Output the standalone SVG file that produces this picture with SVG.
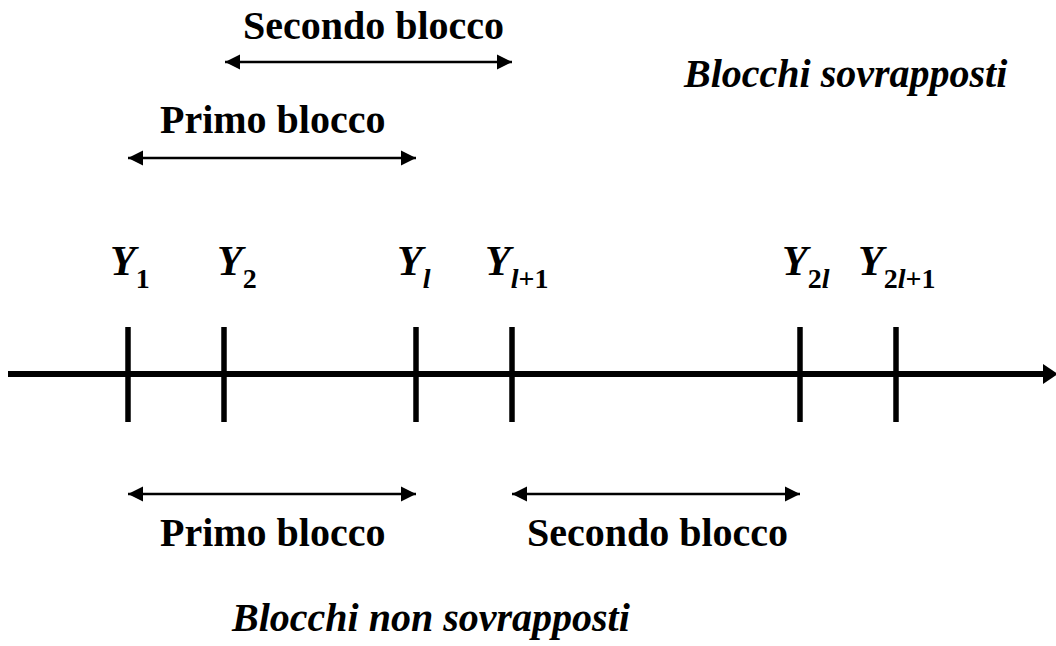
<svg xmlns="http://www.w3.org/2000/svg" width="1056" height="646" viewBox="0 0 1056 646">
<style>
.t{font-family:"Liberation Serif","Times New Roman",serif;font-weight:bold;fill:#000}
.lbl{font-size:40px}
.it{font-style:italic}
.Y{font-size:42px}
.yl{font-style:italic}
.s{font-size:28px;font-style:normal}
.tick{stroke:#000;stroke-width:5.5}
.dbl{stroke:#000;stroke-width:2.5;fill:none;marker-start:url(#ah);marker-end:url(#ah)}
</style>
<defs>
<marker id="ah" markerUnits="userSpaceOnUse" markerWidth="16" markerHeight="16" refX="15" refY="7.5" orient="auto-start-reverse" viewBox="0 0 16 15">
<path d="M0,0 L15,7.5 L0,15 z" fill="#000"/>
</marker>
</defs>
<g id="axis">
<line x1="8" y1="374" x2="1046" y2="374" stroke="#000" stroke-width="6"/>
<polygon points="1043,364 1058,374 1043,384" fill="#000"/>
</g>
<g id="ticks">
<line class="tick" x1="128" y1="327" x2="128" y2="422"/>
<line class="tick" x1="224" y1="327" x2="224" y2="422"/>
<line class="tick" x1="416" y1="327" x2="416" y2="422"/>
<line class="tick" x1="512" y1="327" x2="512" y2="422"/>
<line class="tick" x1="800" y1="327" x2="800" y2="422"/>
<line class="tick" x1="896" y1="327" x2="896" y2="422"/>
</g>
<g id="labels-Y">
<text class="t Y" x="110" y="275"><tspan class="yl">Y</tspan><tspan class="s" dy="13">1</tspan></text>
<text class="t Y" x="217" y="275"><tspan class="yl">Y</tspan><tspan class="s" dy="13">2</tspan></text>
<text class="t Y" x="397" y="275"><tspan class="yl">Y</tspan><tspan class="s" dy="13" style="font-style:italic">l</tspan></text>
<text class="t Y" x="485" y="275"><tspan class="yl">Y</tspan><tspan class="s" dy="13" style="font-style:italic">l</tspan><tspan class="s">+1</tspan></text>
<text class="t Y" x="782" y="275"><tspan class="yl">Y</tspan><tspan class="s" dy="13">2</tspan><tspan class="s" style="font-style:italic">l</tspan></text>
<text class="t Y" x="858" y="275"><tspan class="yl">Y</tspan><tspan class="s" dy="13">2</tspan><tspan class="s" style="font-style:italic">l</tspan><tspan class="s">+1</tspan></text>
</g>
<g id="connectors">
<line class="dbl" x1="225" y1="62" x2="512" y2="62"/>
<line class="dbl" x1="128" y1="158" x2="416" y2="158"/>
<line class="dbl" x1="128" y1="494" x2="416" y2="494"/>
<line class="dbl" x1="512" y1="494" x2="800" y2="494"/>
</g>
<g id="top-second"><text class="t lbl" x="243" y="39">Secondo blocco</text></g>
<g id="top-first"><text class="t lbl" x="160" y="133">Primo blocco</text></g>
<g id="bottom-first"><text class="t lbl" x="160" y="546">Primo blocco</text></g>
<g id="bottom-second"><text class="t lbl" x="527" y="546">Secondo blocco</text></g>
<g id="title-overlap"><text class="t lbl it" x="684" y="87">Blocchi sovrapposti</text></g>
<g id="title-nonoverlap"><text class="t lbl it" x="232" y="631">Blocchi non sovrapposti</text></g>
</svg>
